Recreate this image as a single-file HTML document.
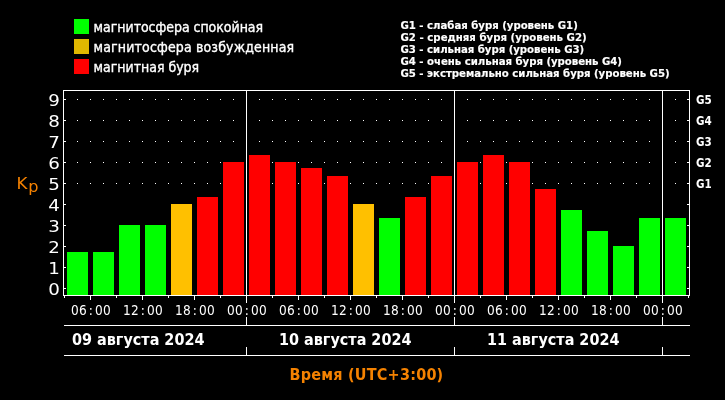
<!DOCTYPE html>
<html lang="ru">
<head>
<meta charset="utf-8">
<title>Kp</title>
<style>
html,body{margin:0;padding:0;background:#000;}
body{width:725px;height:400px;overflow:hidden;position:relative;}
svg{position:absolute;left:0;top:0;display:block;}
.ln{fill:#fff;shape-rendering:crispEdges;}
.leg{font-family:"DejaVu Sans Condensed","DejaVu Sans","Liberation Sans",sans-serif;font-size:14px;fill:#fff;stroke:#fff;stroke-width:0.35px;}
.gl{font-family:"DejaVu Sans Condensed","DejaVu Sans","Liberation Sans",sans-serif;font-weight:bold;font-size:11.3px;fill:#fff;stroke:#fff;stroke-width:0.15px;}
.gr{font-family:"DejaVu Sans Condensed","DejaVu Sans","Liberation Sans",sans-serif;font-weight:bold;font-size:11.5px;fill:#fff;}
.yl{font-family:"DejaVu Sans","Liberation Sans",sans-serif;font-size:15.6px;fill:#fff;text-anchor:end;}
.tm{font-family:"DejaVu Sans Condensed","DejaVu Sans","Liberation Sans",sans-serif;font-size:13.5px;fill:#fff;text-anchor:middle;}
.dt{font-family:"DejaVu Sans Condensed","DejaVu Sans","Liberation Sans",sans-serif;font-weight:bold;font-size:16px;fill:#fff;}
.tt{font-family:"DejaVu Sans Condensed","DejaVu Sans","Liberation Sans",sans-serif;font-weight:bold;font-size:16px;fill:#f58200;text-anchor:middle;}
.kp{font-family:"DejaVu Sans Condensed","DejaVu Sans","Liberation Sans",sans-serif;font-size:16px;fill:#f58200;}
</style>
</head>
<body>
<svg width="725" height="400" viewBox="0 0 725 400">
<rect x="0" y="0" width="725" height="400" fill="#000"/>

<rect x="74" y="19" width="15" height="15" fill="#00ff00" shape-rendering="crispEdges"/>
<text class="leg" x="93.6" y="31.5" textLength="169.5" lengthAdjust="spacing">магнитосфера спокойная</text>
<rect x="74" y="39" width="15" height="15" fill="#e0b800" shape-rendering="crispEdges"/>
<text class="leg" x="93.6" y="51.5" textLength="200.5" lengthAdjust="spacing">магнитосфера возбужденная</text>
<rect x="74" y="59" width="15" height="15" fill="#ff0000" shape-rendering="crispEdges"/>
<text class="leg" x="93.6" y="71.5" textLength="105.5" lengthAdjust="spacing">магнитная буря</text>
<text class="gl" x="400.5" y="29" textLength="177.3" lengthAdjust="spacing">G1 - слабая буря (уровень G1)</text>
<text class="gl" x="400.5" y="41" textLength="186.2" lengthAdjust="spacing">G2 - средняя буря (уровень G2)</text>
<text class="gl" x="400.5" y="53" textLength="183.7" lengthAdjust="spacing">G3 - сильная буря (уровень G3)</text>
<text class="gl" x="400.5" y="65" textLength="221.5" lengthAdjust="spacing">G4 - очень сильная буря (уровень G4)</text>
<text class="gl" x="400.5" y="77" textLength="269.1" lengthAdjust="spacing">G5 - экстремально сильная буря (уровень G5)</text>
<g class="ln">
<rect x="77" y="183" width="1" height="1"/>
<rect x="90" y="183" width="1" height="1"/>
<rect x="103" y="183" width="1" height="1"/>
<rect x="116" y="183" width="1" height="1"/>
<rect x="129" y="183" width="1" height="1"/>
<rect x="142" y="183" width="1" height="1"/>
<rect x="155" y="183" width="1" height="1"/>
<rect x="168" y="183" width="1" height="1"/>
<rect x="181" y="183" width="1" height="1"/>
<rect x="194" y="183" width="1" height="1"/>
<rect x="207" y="183" width="1" height="1"/>
<rect x="220" y="183" width="1" height="1"/>
<rect x="233" y="183" width="1" height="1"/>
<rect x="246" y="183" width="1" height="1"/>
<rect x="259" y="183" width="1" height="1"/>
<rect x="272" y="183" width="1" height="1"/>
<rect x="285" y="183" width="1" height="1"/>
<rect x="298" y="183" width="1" height="1"/>
<rect x="311" y="183" width="1" height="1"/>
<rect x="324" y="183" width="1" height="1"/>
<rect x="337" y="183" width="1" height="1"/>
<rect x="350" y="183" width="1" height="1"/>
<rect x="363" y="183" width="1" height="1"/>
<rect x="376" y="183" width="1" height="1"/>
<rect x="389" y="183" width="1" height="1"/>
<rect x="402" y="183" width="1" height="1"/>
<rect x="415" y="183" width="1" height="1"/>
<rect x="428" y="183" width="1" height="1"/>
<rect x="441" y="183" width="1" height="1"/>
<rect x="454" y="183" width="1" height="1"/>
<rect x="467" y="183" width="1" height="1"/>
<rect x="480" y="183" width="1" height="1"/>
<rect x="493" y="183" width="1" height="1"/>
<rect x="506" y="183" width="1" height="1"/>
<rect x="519" y="183" width="1" height="1"/>
<rect x="532" y="183" width="1" height="1"/>
<rect x="545" y="183" width="1" height="1"/>
<rect x="558" y="183" width="1" height="1"/>
<rect x="571" y="183" width="1" height="1"/>
<rect x="584" y="183" width="1" height="1"/>
<rect x="597" y="183" width="1" height="1"/>
<rect x="610" y="183" width="1" height="1"/>
<rect x="623" y="183" width="1" height="1"/>
<rect x="636" y="183" width="1" height="1"/>
<rect x="649" y="183" width="1" height="1"/>
<rect x="662" y="183" width="1" height="1"/>
<rect x="675" y="183" width="1" height="1"/>
<rect x="77" y="162" width="1" height="1"/>
<rect x="90" y="162" width="1" height="1"/>
<rect x="103" y="162" width="1" height="1"/>
<rect x="116" y="162" width="1" height="1"/>
<rect x="129" y="162" width="1" height="1"/>
<rect x="142" y="162" width="1" height="1"/>
<rect x="155" y="162" width="1" height="1"/>
<rect x="168" y="162" width="1" height="1"/>
<rect x="181" y="162" width="1" height="1"/>
<rect x="194" y="162" width="1" height="1"/>
<rect x="207" y="162" width="1" height="1"/>
<rect x="220" y="162" width="1" height="1"/>
<rect x="233" y="162" width="1" height="1"/>
<rect x="246" y="162" width="1" height="1"/>
<rect x="259" y="162" width="1" height="1"/>
<rect x="272" y="162" width="1" height="1"/>
<rect x="285" y="162" width="1" height="1"/>
<rect x="298" y="162" width="1" height="1"/>
<rect x="311" y="162" width="1" height="1"/>
<rect x="324" y="162" width="1" height="1"/>
<rect x="337" y="162" width="1" height="1"/>
<rect x="350" y="162" width="1" height="1"/>
<rect x="363" y="162" width="1" height="1"/>
<rect x="376" y="162" width="1" height="1"/>
<rect x="389" y="162" width="1" height="1"/>
<rect x="402" y="162" width="1" height="1"/>
<rect x="415" y="162" width="1" height="1"/>
<rect x="428" y="162" width="1" height="1"/>
<rect x="441" y="162" width="1" height="1"/>
<rect x="454" y="162" width="1" height="1"/>
<rect x="467" y="162" width="1" height="1"/>
<rect x="480" y="162" width="1" height="1"/>
<rect x="493" y="162" width="1" height="1"/>
<rect x="506" y="162" width="1" height="1"/>
<rect x="519" y="162" width="1" height="1"/>
<rect x="532" y="162" width="1" height="1"/>
<rect x="545" y="162" width="1" height="1"/>
<rect x="558" y="162" width="1" height="1"/>
<rect x="571" y="162" width="1" height="1"/>
<rect x="584" y="162" width="1" height="1"/>
<rect x="597" y="162" width="1" height="1"/>
<rect x="610" y="162" width="1" height="1"/>
<rect x="623" y="162" width="1" height="1"/>
<rect x="636" y="162" width="1" height="1"/>
<rect x="649" y="162" width="1" height="1"/>
<rect x="662" y="162" width="1" height="1"/>
<rect x="675" y="162" width="1" height="1"/>
<rect x="77" y="141" width="1" height="1"/>
<rect x="90" y="141" width="1" height="1"/>
<rect x="103" y="141" width="1" height="1"/>
<rect x="116" y="141" width="1" height="1"/>
<rect x="129" y="141" width="1" height="1"/>
<rect x="142" y="141" width="1" height="1"/>
<rect x="155" y="141" width="1" height="1"/>
<rect x="168" y="141" width="1" height="1"/>
<rect x="181" y="141" width="1" height="1"/>
<rect x="194" y="141" width="1" height="1"/>
<rect x="207" y="141" width="1" height="1"/>
<rect x="220" y="141" width="1" height="1"/>
<rect x="233" y="141" width="1" height="1"/>
<rect x="246" y="141" width="1" height="1"/>
<rect x="259" y="141" width="1" height="1"/>
<rect x="272" y="141" width="1" height="1"/>
<rect x="285" y="141" width="1" height="1"/>
<rect x="298" y="141" width="1" height="1"/>
<rect x="311" y="141" width="1" height="1"/>
<rect x="324" y="141" width="1" height="1"/>
<rect x="337" y="141" width="1" height="1"/>
<rect x="350" y="141" width="1" height="1"/>
<rect x="363" y="141" width="1" height="1"/>
<rect x="376" y="141" width="1" height="1"/>
<rect x="389" y="141" width="1" height="1"/>
<rect x="402" y="141" width="1" height="1"/>
<rect x="415" y="141" width="1" height="1"/>
<rect x="428" y="141" width="1" height="1"/>
<rect x="441" y="141" width="1" height="1"/>
<rect x="454" y="141" width="1" height="1"/>
<rect x="467" y="141" width="1" height="1"/>
<rect x="480" y="141" width="1" height="1"/>
<rect x="493" y="141" width="1" height="1"/>
<rect x="506" y="141" width="1" height="1"/>
<rect x="519" y="141" width="1" height="1"/>
<rect x="532" y="141" width="1" height="1"/>
<rect x="545" y="141" width="1" height="1"/>
<rect x="558" y="141" width="1" height="1"/>
<rect x="571" y="141" width="1" height="1"/>
<rect x="584" y="141" width="1" height="1"/>
<rect x="597" y="141" width="1" height="1"/>
<rect x="610" y="141" width="1" height="1"/>
<rect x="623" y="141" width="1" height="1"/>
<rect x="636" y="141" width="1" height="1"/>
<rect x="649" y="141" width="1" height="1"/>
<rect x="662" y="141" width="1" height="1"/>
<rect x="675" y="141" width="1" height="1"/>
<rect x="77" y="120" width="1" height="1"/>
<rect x="90" y="120" width="1" height="1"/>
<rect x="103" y="120" width="1" height="1"/>
<rect x="116" y="120" width="1" height="1"/>
<rect x="129" y="120" width="1" height="1"/>
<rect x="142" y="120" width="1" height="1"/>
<rect x="155" y="120" width="1" height="1"/>
<rect x="168" y="120" width="1" height="1"/>
<rect x="181" y="120" width="1" height="1"/>
<rect x="194" y="120" width="1" height="1"/>
<rect x="207" y="120" width="1" height="1"/>
<rect x="220" y="120" width="1" height="1"/>
<rect x="233" y="120" width="1" height="1"/>
<rect x="246" y="120" width="1" height="1"/>
<rect x="259" y="120" width="1" height="1"/>
<rect x="272" y="120" width="1" height="1"/>
<rect x="285" y="120" width="1" height="1"/>
<rect x="298" y="120" width="1" height="1"/>
<rect x="311" y="120" width="1" height="1"/>
<rect x="324" y="120" width="1" height="1"/>
<rect x="337" y="120" width="1" height="1"/>
<rect x="350" y="120" width="1" height="1"/>
<rect x="363" y="120" width="1" height="1"/>
<rect x="376" y="120" width="1" height="1"/>
<rect x="389" y="120" width="1" height="1"/>
<rect x="402" y="120" width="1" height="1"/>
<rect x="415" y="120" width="1" height="1"/>
<rect x="428" y="120" width="1" height="1"/>
<rect x="441" y="120" width="1" height="1"/>
<rect x="454" y="120" width="1" height="1"/>
<rect x="467" y="120" width="1" height="1"/>
<rect x="480" y="120" width="1" height="1"/>
<rect x="493" y="120" width="1" height="1"/>
<rect x="506" y="120" width="1" height="1"/>
<rect x="519" y="120" width="1" height="1"/>
<rect x="532" y="120" width="1" height="1"/>
<rect x="545" y="120" width="1" height="1"/>
<rect x="558" y="120" width="1" height="1"/>
<rect x="571" y="120" width="1" height="1"/>
<rect x="584" y="120" width="1" height="1"/>
<rect x="597" y="120" width="1" height="1"/>
<rect x="610" y="120" width="1" height="1"/>
<rect x="623" y="120" width="1" height="1"/>
<rect x="636" y="120" width="1" height="1"/>
<rect x="649" y="120" width="1" height="1"/>
<rect x="662" y="120" width="1" height="1"/>
<rect x="675" y="120" width="1" height="1"/>
<rect x="77" y="99" width="1" height="1"/>
<rect x="90" y="99" width="1" height="1"/>
<rect x="103" y="99" width="1" height="1"/>
<rect x="116" y="99" width="1" height="1"/>
<rect x="129" y="99" width="1" height="1"/>
<rect x="142" y="99" width="1" height="1"/>
<rect x="155" y="99" width="1" height="1"/>
<rect x="168" y="99" width="1" height="1"/>
<rect x="181" y="99" width="1" height="1"/>
<rect x="194" y="99" width="1" height="1"/>
<rect x="207" y="99" width="1" height="1"/>
<rect x="220" y="99" width="1" height="1"/>
<rect x="233" y="99" width="1" height="1"/>
<rect x="246" y="99" width="1" height="1"/>
<rect x="259" y="99" width="1" height="1"/>
<rect x="272" y="99" width="1" height="1"/>
<rect x="285" y="99" width="1" height="1"/>
<rect x="298" y="99" width="1" height="1"/>
<rect x="311" y="99" width="1" height="1"/>
<rect x="324" y="99" width="1" height="1"/>
<rect x="337" y="99" width="1" height="1"/>
<rect x="350" y="99" width="1" height="1"/>
<rect x="363" y="99" width="1" height="1"/>
<rect x="376" y="99" width="1" height="1"/>
<rect x="389" y="99" width="1" height="1"/>
<rect x="402" y="99" width="1" height="1"/>
<rect x="415" y="99" width="1" height="1"/>
<rect x="428" y="99" width="1" height="1"/>
<rect x="441" y="99" width="1" height="1"/>
<rect x="454" y="99" width="1" height="1"/>
<rect x="467" y="99" width="1" height="1"/>
<rect x="480" y="99" width="1" height="1"/>
<rect x="493" y="99" width="1" height="1"/>
<rect x="506" y="99" width="1" height="1"/>
<rect x="519" y="99" width="1" height="1"/>
<rect x="532" y="99" width="1" height="1"/>
<rect x="545" y="99" width="1" height="1"/>
<rect x="558" y="99" width="1" height="1"/>
<rect x="571" y="99" width="1" height="1"/>
<rect x="584" y="99" width="1" height="1"/>
<rect x="597" y="99" width="1" height="1"/>
<rect x="610" y="99" width="1" height="1"/>
<rect x="623" y="99" width="1" height="1"/>
<rect x="636" y="99" width="1" height="1"/>
<rect x="649" y="99" width="1" height="1"/>
<rect x="662" y="99" width="1" height="1"/>
<rect x="675" y="99" width="1" height="1"/>
</g>
<rect x="67" y="252" width="21" height="43" fill="#00ff00" shape-rendering="crispEdges"/>
<rect x="93" y="252" width="21" height="43" fill="#00ff00" shape-rendering="crispEdges"/>
<rect x="119" y="225" width="21" height="70" fill="#00ff00" shape-rendering="crispEdges"/>
<rect x="145" y="225" width="21" height="70" fill="#00ff00" shape-rendering="crispEdges"/>
<rect x="171" y="204" width="21" height="91" fill="#ffc000" shape-rendering="crispEdges"/>
<rect x="197" y="197" width="21" height="98" fill="#ff0000" shape-rendering="crispEdges"/>
<rect x="223" y="162" width="21" height="133" fill="#ff0000" shape-rendering="crispEdges"/>
<rect x="249" y="155" width="21" height="140" fill="#ff0000" shape-rendering="crispEdges"/>
<rect x="275" y="162" width="21" height="133" fill="#ff0000" shape-rendering="crispEdges"/>
<rect x="301" y="168" width="21" height="127" fill="#ff0000" shape-rendering="crispEdges"/>
<rect x="327" y="176" width="21" height="119" fill="#ff0000" shape-rendering="crispEdges"/>
<rect x="353" y="204" width="21" height="91" fill="#ffc000" shape-rendering="crispEdges"/>
<rect x="379" y="218" width="21" height="77" fill="#00ff00" shape-rendering="crispEdges"/>
<rect x="405" y="197" width="21" height="98" fill="#ff0000" shape-rendering="crispEdges"/>
<rect x="431" y="176" width="21" height="119" fill="#ff0000" shape-rendering="crispEdges"/>
<rect x="457" y="162" width="21" height="133" fill="#ff0000" shape-rendering="crispEdges"/>
<rect x="483" y="155" width="21" height="140" fill="#ff0000" shape-rendering="crispEdges"/>
<rect x="509" y="162" width="21" height="133" fill="#ff0000" shape-rendering="crispEdges"/>
<rect x="535" y="189" width="21" height="106" fill="#ff0000" shape-rendering="crispEdges"/>
<rect x="561" y="210" width="21" height="85" fill="#00ff00" shape-rendering="crispEdges"/>
<rect x="587" y="231" width="21" height="64" fill="#00ff00" shape-rendering="crispEdges"/>
<rect x="613" y="246" width="21" height="49" fill="#00ff00" shape-rendering="crispEdges"/>
<rect x="639" y="218" width="21" height="77" fill="#00ff00" shape-rendering="crispEdges"/>
<rect x="665" y="218" width="21" height="77" fill="#00ff00" shape-rendering="crispEdges"/>
<g class="ln">
<rect x="63" y="90" width="627" height="1"/>
<rect x="63" y="295" width="627" height="1"/>
<rect x="63" y="90" width="1" height="206"/>
<rect x="689" y="90" width="1" height="206"/>
<rect x="246" y="90" width="1" height="213"/>
<rect x="246" y="317" width="1" height="8"/>
<rect x="246" y="347" width="1" height="8"/>
<rect x="454" y="90" width="1" height="213"/>
<rect x="454" y="317" width="1" height="8"/>
<rect x="454" y="347" width="1" height="8"/>
<rect x="662" y="90" width="1" height="213"/>
<rect x="662" y="317" width="1" height="8"/>
<rect x="662" y="347" width="1" height="8"/>
<rect x="64" y="325" width="626" height="1"/>
<rect x="64" y="355" width="626" height="1"/>
<rect x="64" y="288" width="2" height="1"/>
<rect x="687" y="288" width="2" height="1"/>
<rect x="64" y="267" width="2" height="1"/>
<rect x="687" y="267" width="2" height="1"/>
<rect x="64" y="246" width="2" height="1"/>
<rect x="687" y="246" width="2" height="1"/>
<rect x="64" y="225" width="2" height="1"/>
<rect x="687" y="225" width="2" height="1"/>
<rect x="64" y="204" width="2" height="1"/>
<rect x="687" y="204" width="2" height="1"/>
<rect x="64" y="183" width="2" height="1"/>
<rect x="687" y="183" width="2" height="1"/>
<rect x="64" y="162" width="2" height="1"/>
<rect x="687" y="162" width="2" height="1"/>
<rect x="64" y="141" width="2" height="1"/>
<rect x="687" y="141" width="2" height="1"/>
<rect x="64" y="120" width="2" height="1"/>
<rect x="687" y="120" width="2" height="1"/>
<rect x="64" y="99" width="2" height="1"/>
<rect x="687" y="99" width="2" height="1"/>
<rect x="64" y="296" width="1" height="2"/>
<rect x="90" y="296" width="1" height="4"/>
<rect x="116" y="296" width="1" height="2"/>
<rect x="142" y="296" width="1" height="4"/>
<rect x="168" y="296" width="1" height="2"/>
<rect x="194" y="296" width="1" height="4"/>
<rect x="220" y="296" width="1" height="2"/>
<rect x="246" y="296" width="1" height="4"/>
<rect x="272" y="296" width="1" height="2"/>
<rect x="298" y="296" width="1" height="4"/>
<rect x="324" y="296" width="1" height="2"/>
<rect x="350" y="296" width="1" height="4"/>
<rect x="376" y="296" width="1" height="2"/>
<rect x="402" y="296" width="1" height="4"/>
<rect x="428" y="296" width="1" height="2"/>
<rect x="454" y="296" width="1" height="4"/>
<rect x="480" y="296" width="1" height="2"/>
<rect x="506" y="296" width="1" height="4"/>
<rect x="532" y="296" width="1" height="2"/>
<rect x="558" y="296" width="1" height="4"/>
<rect x="584" y="296" width="1" height="2"/>
<rect x="610" y="296" width="1" height="4"/>
<rect x="636" y="296" width="1" height="2"/>
<rect x="662" y="296" width="1" height="4"/>
<rect x="688" y="296" width="1" height="2"/>
</g>
<text class="yl" transform="translate(59.8 294.9) scale(1.17 1)" x="0" y="0">0</text>
<text class="yl" transform="translate(59.8 273.9) scale(1.17 1)" x="0" y="0">1</text>
<text class="yl" transform="translate(59.8 252.9) scale(1.17 1)" x="0" y="0">2</text>
<text class="yl" transform="translate(59.8 231.9) scale(1.17 1)" x="0" y="0">3</text>
<text class="yl" transform="translate(59.8 210.9) scale(1.17 1)" x="0" y="0">4</text>
<text class="yl" transform="translate(59.8 189.9) scale(1.17 1)" x="0" y="0">5</text>
<text class="yl" transform="translate(59.8 168.9) scale(1.17 1)" x="0" y="0">6</text>
<text class="yl" transform="translate(59.8 147.9) scale(1.17 1)" x="0" y="0">7</text>
<text class="yl" transform="translate(59.8 126.9) scale(1.17 1)" x="0" y="0">8</text>
<text class="yl" transform="translate(59.8 105.9) scale(1.17 1)" x="0" y="0">9</text>
<text class="gr" x="696" y="188">G1</text>
<text class="gr" x="696" y="167">G2</text>
<text class="gr" x="696" y="146">G3</text>
<text class="gr" x="696" y="125">G4</text>
<text class="gr" x="696" y="104">G5</text>
<text class="tm" x="74.8 82.8 90.8 98.8 106.8" y="315">06:00</text>
<text class="tm" x="126.8 134.8 142.8 150.8 158.8" y="315">12:00</text>
<text class="tm" x="178.8 186.8 194.8 202.8 210.8" y="315">18:00</text>
<text class="tm" x="230.8 238.8 246.8 254.8 262.8" y="315">00:00</text>
<text class="tm" x="282.8 290.8 298.8 306.8 314.8" y="315">06:00</text>
<text class="tm" x="334.8 342.8 350.8 358.8 366.8" y="315">12:00</text>
<text class="tm" x="386.8 394.8 402.8 410.8 418.8" y="315">18:00</text>
<text class="tm" x="438.8 446.8 454.8 462.8 470.8" y="315">00:00</text>
<text class="tm" x="490.8 498.8 506.8 514.8 522.8" y="315">06:00</text>
<text class="tm" x="542.8 550.8 558.8 566.8 574.8" y="315">12:00</text>
<text class="tm" x="594.8 602.8 610.8 618.8 626.8" y="315">18:00</text>
<text class="tm" x="646.8 654.8 662.8 670.8 678.8" y="315">00:00</text>
<text class="dt" x="72" y="345">09 августа 2024</text>
<text class="dt" x="279" y="345">10 августа 2024</text>
<text class="dt" x="487" y="345">11 августа 2024</text>
<text class="tt" x="366.4" y="380" textLength="153.6" lengthAdjust="spacing">Время (UTC+3:00)</text>
<text class="kp" transform="translate(16.4 189) scale(1.16 1)" x="0" y="0">K</text>
<text class="kp" transform="translate(28.3 192) scale(1.12 1)" x="0" y="0">p</text>
</svg>
</body>
</html>
